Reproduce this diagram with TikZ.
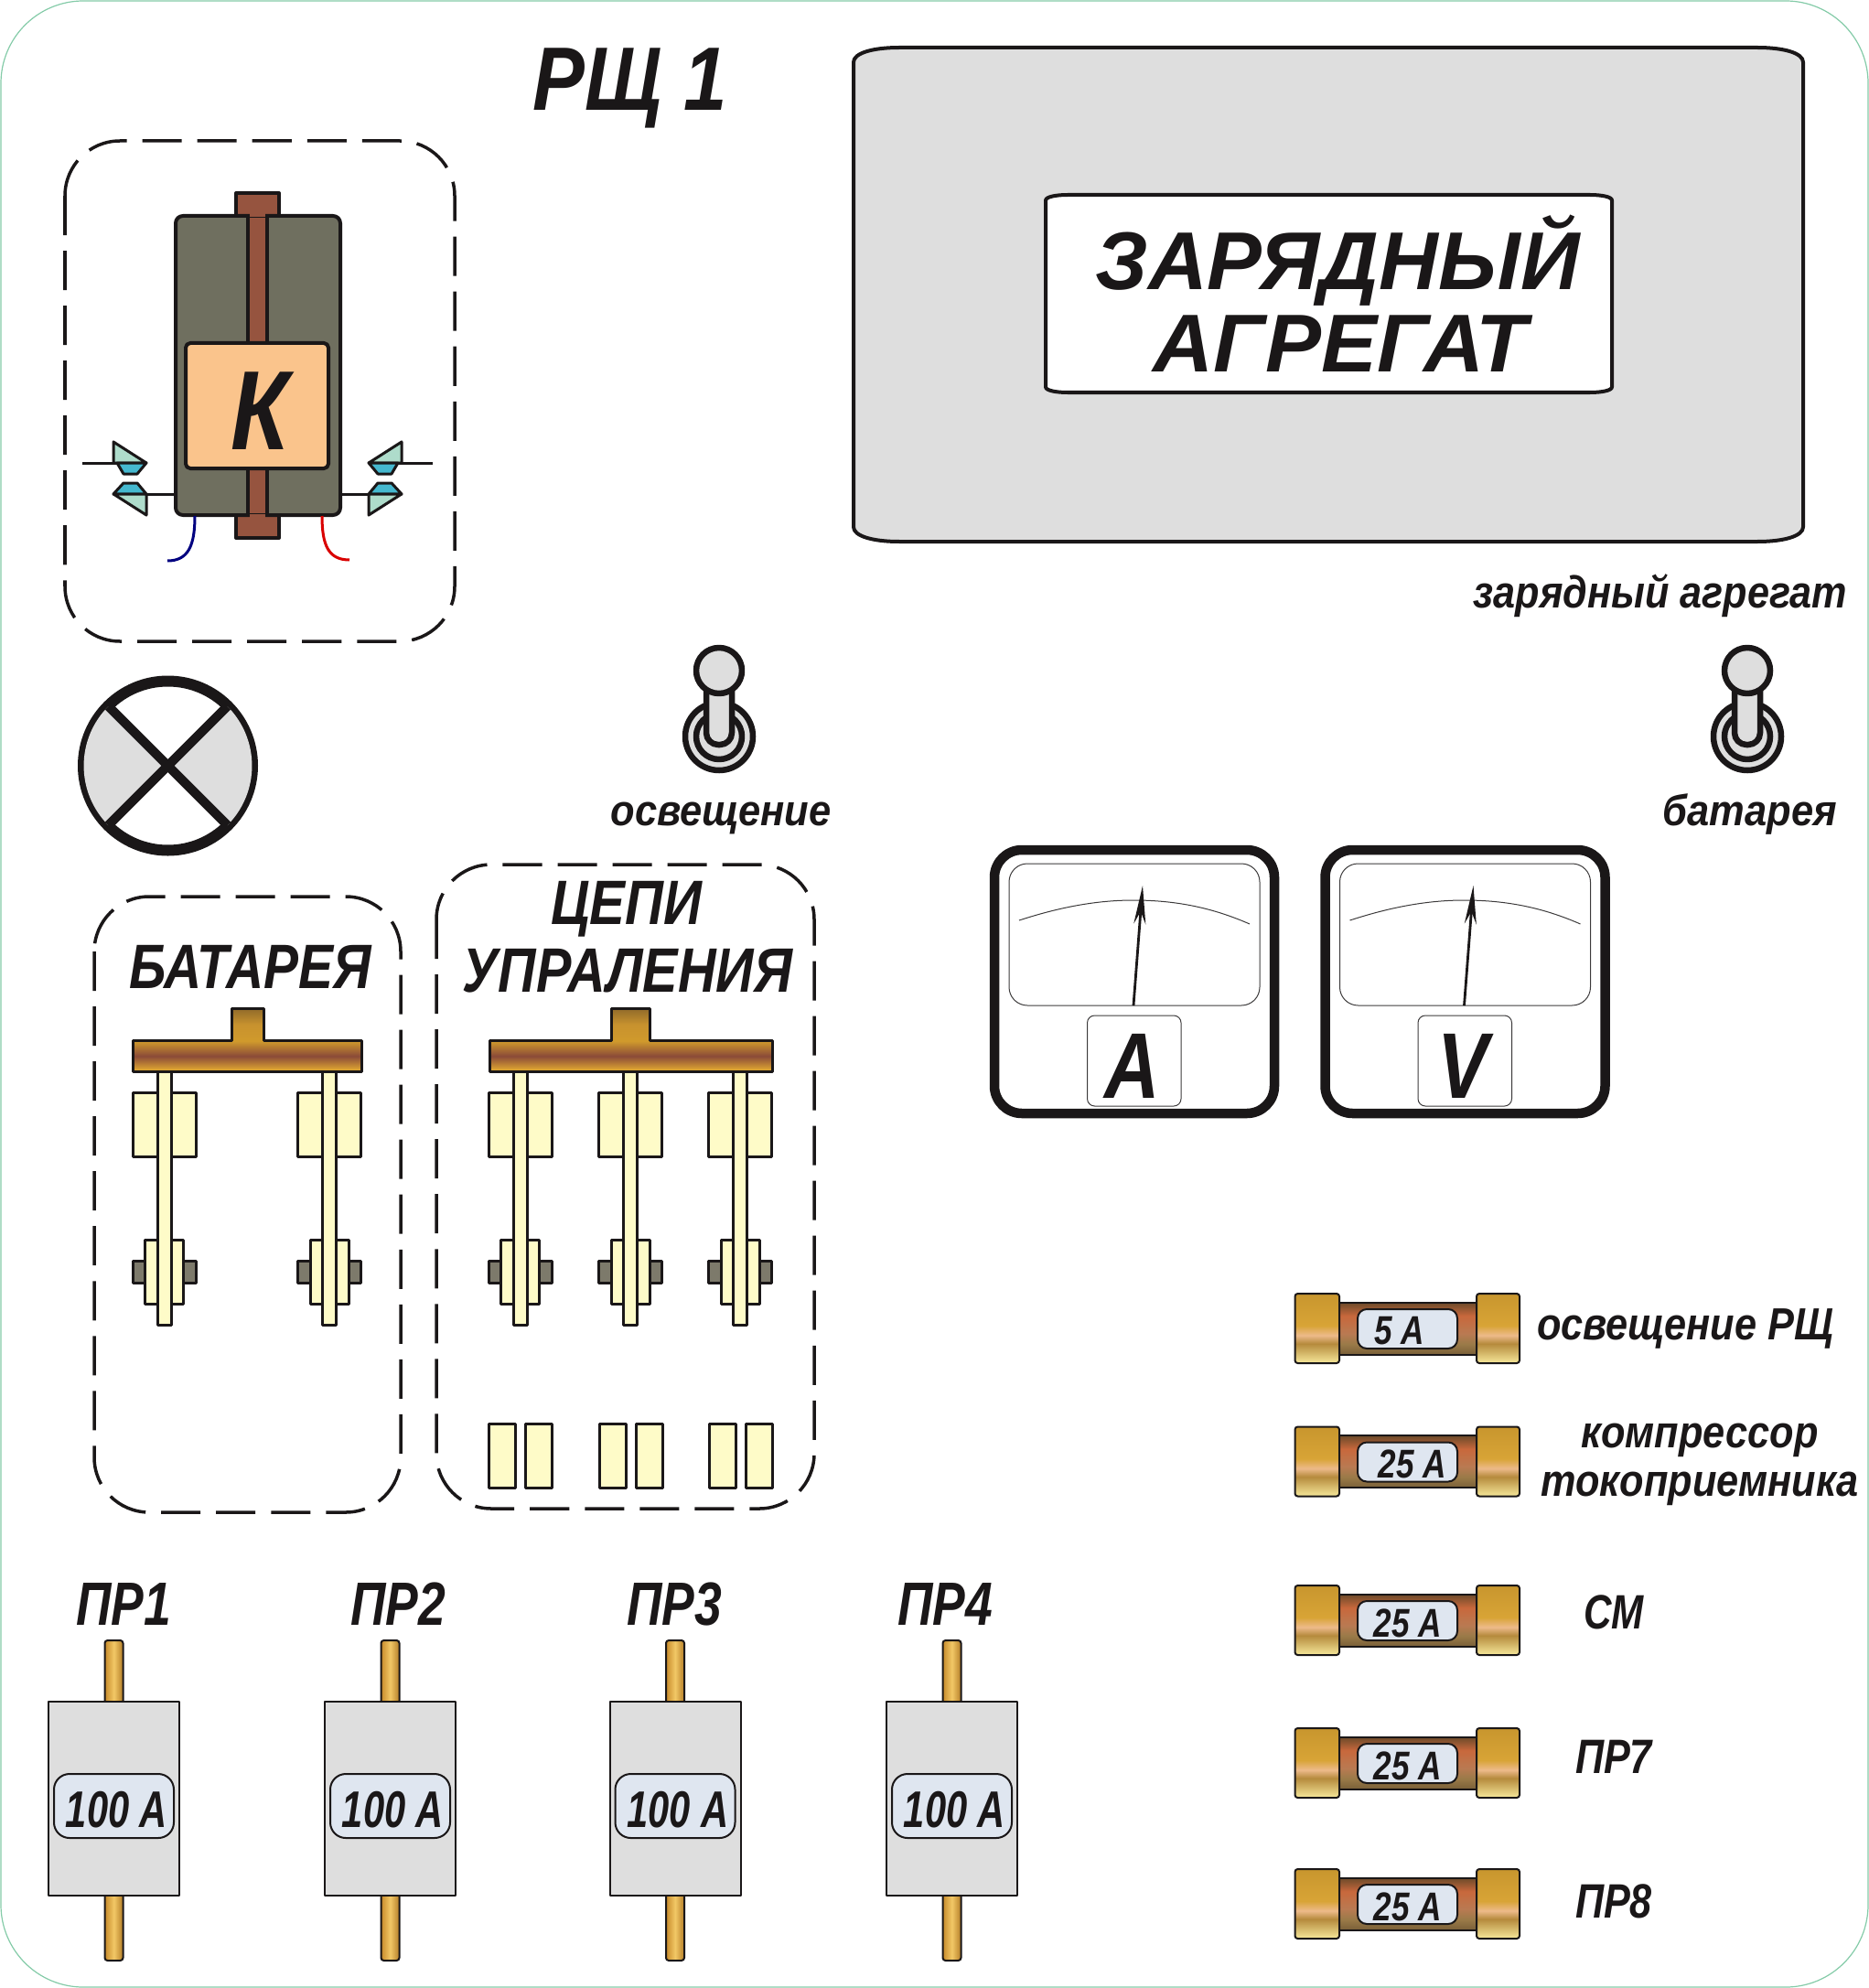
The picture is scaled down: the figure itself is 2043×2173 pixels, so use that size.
\documentclass[tikz,border=0pt]{standalone}
\usepackage{graphicx}
\usepackage{fontspec}
\setmainfont{Liberation Sans}
\usetikzlibrary{arrows.meta}
\definecolor{ink}{HTML}{1A1718}
\definecolor{panelgrey}{HTML}{DEDEDE}
\definecolor{boardgreen}{HTML}{84CBA8}
\definecolor{coregrey}{HTML}{6F6F5F}
\definecolor{barbrown}{HTML}{96543F}
\definecolor{coilorange}{HTML}{FAC48C}
\definecolor{tipgreen}{HTML}{AEDCCB}
\definecolor{tipblue}{HTML}{45B8CF}
\definecolor{cream}{HTML}{FEFBC8}
\definecolor{nutgrey}{HTML}{7D7A6B}
\definecolor{platewhite}{HTML}{DFE6F0}
\definecolor{capA}{HTML}{F6E89A}
\definecolor{capB}{HTML}{B58A3C}
\definecolor{capC}{HTML}{EDBA8A}
\definecolor{capD}{HTML}{D8A436}
\definecolor{capE}{HTML}{C8962E}
\definecolor{tubeA}{HTML}{7A6038}
\definecolor{tubeB}{HTML}{9A7A48}
\definecolor{tubeC}{HTML}{B97A52}
\definecolor{tubeD}{HTML}{C8683C}
\definecolor{tubeE}{HTML}{6B4A2A}
\definecolor{busA}{HTML}{E8B030}
\definecolor{busB}{HTML}{8A4A38}
\definecolor{busC}{HTML}{D09A2C}
\definecolor{busD}{HTML}{C8922E}
\definecolor{busE}{HTML}{8F6A2A}
\definecolor{pinA}{HTML}{C78A2A}
\definecolor{pinB}{HTML}{F2C866}
\definecolor{pinC}{HTML}{B57E28}
\pgfdeclareverticalshading{capshade}{100bp}{color(0bp)=(capA); color(25bp)=(capA); color(39bp)=(capB); color(45bp)=(capC); color(52bp)=(capD); color(75bp)=(capE); color(100bp)=(capE)}
\pgfdeclareverticalshading{tubeshade}{100bp}{color(0bp)=(tubeA); color(25bp)=(tubeA); color(35bp)=(tubeB); color(45bp)=(tubeC); color(62bp)=(tubeD); color(75bp)=(tubeE); color(100bp)=(tubeE)}
\pgfdeclareverticalshading{busshade}{100bp}{color(0bp)=(busA); color(25bp)=(busA); color(37bp)=(busB); color(49bp)=(busC); color(62bp)=(busD); color(75bp)=(busE); color(100bp)=(busE)}
\pgfdeclarehorizontalshading{pinshade}{100bp}{color(0bp)=(pinA); color(25bp)=(pinA); color(50bp)=(pinB); color(75bp)=(pinC); color(100bp)=(pinC)}
\newcommand{\sx}[2]{\scalebox{#1}[1]{#2}}
\tikzset{
  lbl/.style={inner sep=0pt,text=ink,font=\bfseries\itshape\fontsize{#1}{#1}\selectfont},
  part/.style={draw=ink,line width=0.03cm},
  dashbox/.style={draw=ink,line width=0.035cm,rounded corners=0.6cm,dash pattern=on 0.43cm off 0.17cm},
  thinline/.style={draw=ink!85,line width=0.01cm},
}
\begin{document}
\begin{tikzpicture}[x=0.01cm,y=-0.01cm,line join=round]
    \useasboundingbox (0,0) rectangle (2043,2173);
    %Board
    \draw[boardgreen,line width=0.012cm,rounded corners=0.9cm] (1,1) rectangle (2042,2172);
    \node[lbl=28pt] (title) at (689,96) {\sx{0.865}{РЩ 1}};
    %Charger
    \draw[part,fill=panelgrey,line width=0.04cm] (983,52) -- (1921,52) .. controls (1950,52) and (1971,58) .. (1971,68) -- (1971,576) .. controls (1971,586) and (1950,592) .. (1921,592) -- (983,592) .. controls (954,592) and (933,586) .. (933,576) -- (933,68) .. controls (933,58) and (954,52) .. (983,52) -- cycle;
    \draw[part,fill=white,line width=0.04cm] (1167,213) -- (1738,213) .. controls (1750,213) and (1762,215) .. (1762,219) -- (1762,423) .. controls (1762,427) and (1750,429) .. (1738,429) -- (1167,429) .. controls (1155,429) and (1143,427) .. (1143,423) -- (1143,219) .. controls (1143,215) and (1155,213) .. (1167,213) -- cycle;
    \node[lbl=25.5pt] (chargerA) at (1462,285) {ЗАРЯДНЫЙ};
    \node[lbl=25.5pt] (chargerB) at (1465,376) {\sx{1.02}{АГРЕГАТ}};
    \node[lbl=14pt] (chargerlbl) at (1815,651) {\sx{0.878}{зарядный агрегат}};
    %Contactor
    \draw[dashbox] (71,154) rectangle (497,701);
    \draw[part,fill=barbrown,line width=0.04cm] (258,211) rectangle (305,588);
    \draw[part,fill=coregrey,rounded corners=0.08cm,line width=0.04cm] (192,236) rectangle (372,563);
    \draw[part,fill=barbrown,line width=0.04cm] (271,236) rectangle (292,563);
    \draw[barbrown,line width=0.045cm] (273,235) -- (290,235);
    \draw[barbrown,line width=0.045cm] (273,564) -- (290,564);
    \draw[part,fill=coilorange,rounded corners=0.05cm,line width=0.04cm] (203,375) rectangle (359,512);
    \node[lbl=35pt] (coil) at (284,449) {\sx{0.84}{К}};
    \foreach \m in {1,-1} {
    \begin{scope}[shift={(281.5,0)},xscale=\m]
        \draw[part] (-191.5,506) -- (-121.5,506);
        \draw[part] (-121.5,540) -- (-89.5,540);
        \draw[part,fill=tipgreen] (-157.5,483) -- (-121.5,506) -- (-157.5,506) -- cycle;
        \draw[part,fill=tipblue] (-153.5,506) -- (-121.5,506) -- (-131.5,518) -- (-146.5,518) -- cycle;
        \draw[part,fill=tipblue] (-157.5,540) -- (-146.5,528) -- (-131.5,528) -- (-121.5,540) -- cycle;
        \draw[part,fill=tipgreen] (-157.5,540) -- (-121.5,540) -- (-121.5,563) -- cycle;
    \end{scope}
    }
    \draw[blue!50!black,line width=0.03cm] (213,564) .. controls (213,596) and (206,613) .. (183,613);
    \draw[red!85!black,line width=0.03cm] (352,564) .. controls (352,596) and (359,612) .. (382,612);
    %Lamp
    \draw[ink,line width=0.12cm,fill=white] (183.5,837) circle [radius=92.5];
    \fill[panelgrey] (183.5,837) -- (118.5,772) arc[start angle=225,end angle=135,radius=92] -- cycle;
    \fill[panelgrey] (183.5,837) -- (248.5,772) arc[start angle=-45,end angle=45,radius=92] -- cycle;
    \draw[ink,line width=0.1cm] (118.5,772) -- (248.5,902);
    \draw[ink,line width=0.1cm] (248.5,772) -- (118.5,902);
    %Toggles
    \foreach \x/\name/\txt in {0/light/освещение,1124/batt/батарея} {
    \begin{scope}[shift={(\x,0)}]
        \draw[ink,line width=0.065cm,fill=panelgrey] (786,805) circle [radius=37];
        \draw[ink,line width=0.065cm,fill=panelgrey] (786,805) circle [radius=25];
        \draw[ink,line width=0.065cm,fill=panelgrey,rounded corners=0.13cm] (772,745) -- (772,814) -- (800,814) -- (800,745);
        \draw[ink,line width=0.065cm,fill=panelgrey] (786,733) circle [radius=25];
        \node[lbl=13.5pt,anchor=base] (\name) at (\ifnum\x=0 2\else 3\fi+786,902) {\sx{0.916}{\txt}};
    \end{scope}
    }
    %Meters
    \foreach \x/\unit in {0/A,361.5/V} {
    \begin{scope}[shift={(\x,0)}]
        \draw[ink,line width=0.105cm,rounded corners=0.3cm] (1087,929) rectangle (1393,1217);
        \draw[thinline,rounded corners=0.2cm] (1103,944) rectangle (1377,1099);
        \draw[thinline] (1114,1006) .. controls (1160,991) and (1200,984) .. (1239,984) .. controls (1285,984) and (1325,992) .. (1366,1010);
        \coordinate (foot\unit) at (1239,1099);
        \coordinate (tip\unit) at (1249,968);
        \draw[ink,line width=0.028cm,-{Stealth[length=0.42cm,width=0.13cm]}] (foot\unit) -- (tip\unit);
        \draw[thinline,rounded corners=0.08cm] (1188.5,1110) rectangle (1291,1209);
        \node[lbl=29pt] (meter\unit) at (1238,1165) {\sx{0.82}{\unit}};
    \end{scope}
    }
    %Battery switch
    \draw[dashbox] (103,980) rectangle (438,1653);
    \node[lbl=19.5pt] (batttitle) at (274,1057) {\sx{0.83}{БАТАРЕЯ}};
    %Control switch
    \draw[dashbox] (477,945) rectangle (890,1649);
    \node[lbl=19.5pt] (ctrltitleA) at (685,994) {\sx{0.85}{ЦЕПИ}};
    \node[lbl=19.5pt] (ctrltitleB) at (686,1061) {\sx{0.84}{УПРАЛЕНИЯ}};
    %Busbars
    \draw[part,shading=busshade] (145,1137) -- (253,1137) -- (253,1102) -- (288,1102) -- (288,1137) -- (395,1137) -- (395,1171) -- (145,1171) -- cycle;
    \draw[part,shading=busshade] (535,1137) -- (668,1137) -- (668,1102) -- (710,1102) -- (710,1137) -- (844,1137) -- (844,1171) -- (535,1171) -- cycle;
    %Poles
    \foreach \x in {179.5,360,568.5,689,809} {
    \begin{scope}[shift={(\x,0)}]
        \draw[part,fill=cream] (-34.5,1194) rectangle (34.5,1264);
        \draw[part,fill=nutgrey] (-34.5,1378) rectangle (34.5,1402);
        \draw[part,fill=cream] (-21,1355) rectangle (21,1425);
        \draw[part,fill=cream] (-7.5,1171) rectangle (7.5,1448);
    \end{scope}
    }
    \foreach \x in {568.5,689,809} {
    \begin{scope}[shift={(\x,0)}]
        \draw[part,fill=cream] (-34,1556) rectangle (-5,1626);
        \draw[part,fill=cream] (6,1556) rectangle (35,1626);
    \end{scope}
    }
    %Big fuses
    \foreach \x/\lx/\name in {124.5/135/1,426.5/435/2,738/737/3,1040.5/1033/4} {
    \node[lbl=19pt] (pr\name) at (\lx,1753) {\sx{0.8}{ПР\name}};
    \begin{scope}[shift={(\x,0)}]
        \draw[part,line width=0.02cm,shading=pinshade,rounded corners=0.03cm] (-10,1793) rectangle (10,1862);
        \draw[part,line width=0.02cm,shading=pinshade,rounded corners=0.03cm] (-10,2070) rectangle (10,2143);
        \draw[part,line width=0.02cm,fill=panelgrey] (-71.5,1860) rectangle (71.5,2072);
        \draw[part,line width=0.02cm,fill=platewhite,rounded corners=0.17cm] (-65.5,1939) rectangle (65.5,2009);
        \node[lbl=16pt] (rate\name) at (3,1978) {\sx{0.74}{100 А}};
    \end{scope}
    }
    %Small fuses
    \foreach \y/\rx/\rate/\name in {1452/1530/5 А/a,1597.5/1544/25 А/b,1771/1539/25 А/c,1927/1539/25 А/d,2081/1539/25 А/e} {
    \begin{scope}[shift={(0,\y)}]
        \draw[part,line width=0.02cm,shading=tubeshade] (1464,-28.5) rectangle (1614,28.5);
        \draw[part,line width=0.02cm,shading=capshade,rounded corners=0.03cm] (1415.5,-38) rectangle (1464,38);
        \draw[part,line width=0.02cm,shading=capshade,rounded corners=0.03cm] (1614,-38) rectangle (1661,38);
        \draw[part,line width=0.02cm,fill=platewhite,rounded corners=0.1cm] (1484,-21) rectangle (1593,22);
        \node[lbl=12.5pt] (small\name) at (\rx,3) {\sx{0.8}{\rate}};
    \end{scope}
    }
    %Fuse labels
    \node[lbl=14pt] (lblA) at (1842,1452) {\sx{0.88}{освещение РЩ}};
    \node[lbl=14pt] (lblB) at (1858,1574) {\sx{0.88}{компрессор}};
    \node[lbl=14pt] (lblC) at (1858,1627) {\sx{0.88}{токоприемника}};
    \node[lbl=15pt] (lblD) at (1764,1762) {\sx{0.8}{СМ}};
    \node[lbl=15pt] (lblE) at (1764,1920) {\sx{0.82}{ПР7}};
    \node[lbl=15pt] (lblF) at (1764,2078) {\sx{0.82}{ПР8}};
\end{tikzpicture}
\end{document}
